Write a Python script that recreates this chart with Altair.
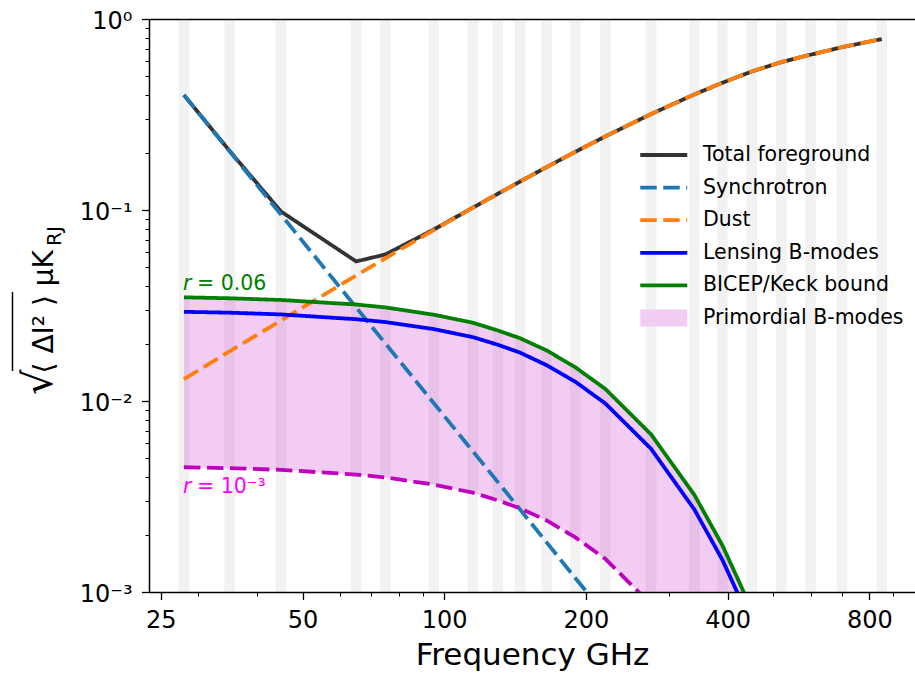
import altair as alt
import pandas as pd

FONT = "DejaVu Sans"

# ---------------- data ----------------
freq = [28, 35, 45, 65, 75, 95, 115, 130, 145, 165, 190, 220, 275, 340, 390, 450, 520, 600, 700, 850]
total_fg = [0.400, 0.204, 0.0982, 0.0538, 0.0585, 0.0790, 0.1028, 0.1216, 0.1410, 0.1677, 0.2018,
            0.243, 0.318, 0.403, 0.464, 0.531, 0.595, 0.650, 0.712, 0.785]
sync = [0.400, 0.203, 0.0946, 0.0309, 0.0200, 0.00975, 0.00546, 0.00376, 0.00270, 0.00182, 0.00118,
        0.00076, 0.000386, 0.000202, 0.000133, 0.000086, 0.0000554, 0.0000359, 0.0000225, 0.0000125]
dust = [0.0130, 0.0182, 0.0264, 0.0454, 0.0559, 0.0784, 0.1026, 0.1215, 0.1410, 0.1677, 0.2018,
        0.243, 0.318, 0.403, 0.464, 0.531, 0.595, 0.650, 0.712, 0.785]
lensing = [0.0293, 0.0290, 0.0284, 0.0268, 0.0259, 0.0238, 0.0216, 0.0197, 0.0179, 0.0154, 0.0126,
           0.0097, 0.00562, 0.00270, 0.00147, 0.00068, 0.000264, 0.000086, 0.000020, 0.0000021]
bicep = [0.0349, 0.0345, 0.0338, 0.0320, 0.0309, 0.0283, 0.0257, 0.0234, 0.0213, 0.0184, 0.0150,
         0.01155, 0.00669, 0.00322, 0.00175, 0.00081, 0.000315, 0.000103, 0.000024, 0.0000025]
r_low = [0.00450, 0.00445, 0.00436, 0.00412, 0.00398, 0.00365, 0.00331, 0.00302, 0.00274, 0.00237,
         0.00193, 0.00149, 0.00086, 0.000415, 0.000226, 0.000104, 0.0000406, 0.0000132, 0.0000031, 0.00000032]

band_centers = [28, 35, 45, 65, 75, 95, 115, 130, 145, 165, 190, 220, 275, 340, 390, 450, 520, 600, 700, 850]

series_names = ["Total foreground", "Synchrotron", "Dust", "Lensing B-modes",
                "BICEP/Keck bound", "Primordial B-modes"]
series_colors = ["#333333", "#1f77b4", "#ff7f0e", "#0000ff", "#008000", "#f2ccf2"]

x_major = [25, 50, 100, 200, 400, 800]
x_minor = [30, 40, 60, 70, 80, 90, 300, 500, 600, 700, 900]
y_major = [0.001, 0.01, 0.1, 1]
y_minor = [0.002, 0.003, 0.004, 0.005, 0.006, 0.007, 0.008, 0.009,
           0.02, 0.03, 0.04, 0.05, 0.06, 0.07, 0.08, 0.09,
           0.2, 0.3, 0.4, 0.5, 0.6, 0.7, 0.8, 0.9]

ann_freq = [28, 28]
ann_val = [0.0383, 0.0033]
ann_rest = ["= 0.06", "= 10⁻³"]
ann_color = ["#008000", "#ff00ff"]

# ---------------- tables ----------------
DASH = [16.5, 6.5]
SOLID = [1, 0]
series_dash = [SOLID, DASH, DASH, SOLID, SOLID, SOLID]

rows = []
for name, vals in zip(series_names[:5], [total_fg, sync, dust, lensing, bicep]):
    for f, v in zip(freq, vals):
        rows.append({"freq": f, "value": v, "series": name})
lines_df = pd.DataFrame(rows)

bmode_df = pd.DataFrame({"freq": freq, "r_low": r_low, "bicep": bicep})

HALF = 1.026
bands_df = pd.DataFrame({"lo": [c / HALF for c in band_centers], "hi": [c * HALF for c in band_centers]})

ann_df = pd.DataFrame({"freq": ann_freq, "val": ann_val, "rest": ann_rest, "col": ann_color})

xscale = alt.Scale(type="log", domain=[23.6, 1000], nice=False)
yscale = alt.Scale(type="log", domain=[0.001, 1], nice=False)

# ---------------- layers ----------------
bands = alt.Chart(bands_df).mark_rect(color="#808080", opacity=0.1).encode(
    x=alt.X("lo:Q", scale=xscale,
            axis=alt.Axis(orient="bottom", values=x_minor, labels=False, tickSize=4, tickWidth=1,
                          tickColor="black", domain=False, grid=False, title=None)),
    x2="hi:Q",
    y=alt.YDatum(1.0, scale=yscale, axis=None),
    y2=alt.Y2Datum(0.001),
)

ylab = ("datum.value > 0.5 ? '10⁰' : datum.value > 0.05 ? '10⁻¹' : "
        "datum.value > 0.005 ? '10⁻²' : '10⁻³'")

area = alt.Chart(bmode_df).mark_area(clip=True, color="#bf00bf", opacity=0.2).encode(
    x=alt.X("freq:Q", scale=xscale,
            axis=alt.Axis(orient="bottom", values=x_major, labelExpr="format(datum.value, 'd')",
                          tickSize=7.5, tickWidth=1.3, tickColor="black", domainColor="black",
                          domainWidth=1.5, labelFontSize=24, labelFont=FONT, labelColor="black",
                          labelPadding=9, labelFlush=False, title="Frequency GHz", titleFontSize=31,
                          titleFont=FONT, titleFontWeight="normal", titleColor="black",
                          titlePadding=8, grid=False)),
    y=alt.Y("r_low:Q", scale=yscale,
            axis=alt.Axis(orient="left", values=y_major, labelExpr=ylab, tickSize=7.5, tickWidth=1.3,
                          tickColor="black", domainColor="black", domainWidth=1.5, labelFontSize=24,
                          labelFont=FONT, labelColor="black", labelPadding=9.5, labelOffset=2,
                          labelFlush=False, grid=False, title=None)),
    y2="bicep:Q",
)

leg = alt.Legend(title=None, orient="none", legendX=491, legendY=126,
                 symbolType="M-2.35,0H2.35", symbolSize=400, symbolOffset=13.5,
                 symbolStrokeWidth=alt.ExprRef(expr="datum.value === 'Primordial B-modes' ? 17 : 3.8"),
                 clipHeight=20, rowPadding=11.6,
                 labelFontSize=20.5, labelFont=FONT, labelColor="black", labelOffset=29,
                 padding=0, labelLimit=400)

lines = alt.Chart(lines_df).mark_line(clip=True, strokeWidth=3.8).encode(
    x=alt.X("freq:Q", scale=xscale,
            axis=alt.Axis(orient="top", ticks=False, labels=False, domain=True, domainColor="black",
                          domainWidth=1.5, grid=False, title=None)),
    y=alt.Y("value:Q", scale=yscale, axis=None),
    color=alt.Color("series:N", scale=alt.Scale(domain=series_names, range=series_colors), legend=leg),
    strokeDash=alt.StrokeDash("series:N", scale=alt.Scale(domain=series_names, range=series_dash),
                              legend=leg),
)

mag = alt.Chart(bmode_df).mark_line(clip=True, color="#bf00bf", strokeDash=DASH, strokeWidth=3.8).encode(
    x=alt.X("freq:Q", scale=xscale, axis=None),
    y=alt.Y("r_low:Q", scale=yscale,
            axis=alt.Axis(orient="left", values=y_minor, labels=False, tickSize=4, tickWidth=1,
                          tickColor="black", domain=False, grid=False, title=None)),
)

ann_r = alt.Chart(ann_df).mark_text(align="left", baseline="alphabetic", fontSize=20.5, font=FONT,
                                    fontStyle="italic", dx=-1).encode(
    x=alt.X("freq:Q", scale=xscale, axis=None),
    y=alt.Y("val:Q", scale=yscale, axis=None),
    text=alt.value("r"),
    color=alt.Color("col:N", scale=None),
)
ann_text = alt.Chart(ann_df).mark_text(align="left", baseline="alphabetic", fontSize=20.5, font=FONT,
                                       dx=13).encode(
    x=alt.X("freq:Q", scale=xscale, axis=None),
    y=alt.Y("val:Q", scale=yscale, axis=None),
    text="rest:N",
    color=alt.Color("col:N", scale=None),
)

# ---- y-axis title drawn as rotated text pieces ----
one = pd.DataFrame({"k": [0]})
yt_root = alt.Chart(one).mark_text(angle=270, align="left", baseline="alphabetic", fontSize=40,
                                   font=FONT, color="black").encode(
    x=alt.value(-97), y=alt.value(376), text=alt.value("√"))
yt_bar = alt.Chart(one).mark_rule(color="black", strokeWidth=1.5).encode(
    x=alt.value(-136.5), y=alt.value(273), y2=alt.value(352))
yt_main = alt.Chart(one).mark_text(angle=270, align="right", baseline="alphabetic", fontSize=28,
                                   font=FONT, color="black").encode(
    x=alt.value(-96), y=alt.value(231), text=alt.value("⟨ ΔI² ⟩  μK"))
yt_sub = alt.Chart(one).mark_text(angle=270, align="left", baseline="alphabetic", fontSize=20,
                                  font=FONT, color="black").encode(
    x=alt.value(-88), y=alt.value(227), text=alt.value("RJ"))

chart = alt.layer(bands, area, lines, mag, ann_r, ann_text, yt_root, yt_bar, yt_main, yt_sub).resolve_scale(
    x="shared", y="shared").resolve_axis(x="independent", y="independent").properties(
    width=766, height=573, autosize=alt.AutoSizeParams(type="none"),
    padding={"left": 149, "top": 19, "right": 0, "bottom": 82},
).configure_view(stroke=None)

chart.save("out.html", embed_options={"renderer": "svg", "actions": False})
